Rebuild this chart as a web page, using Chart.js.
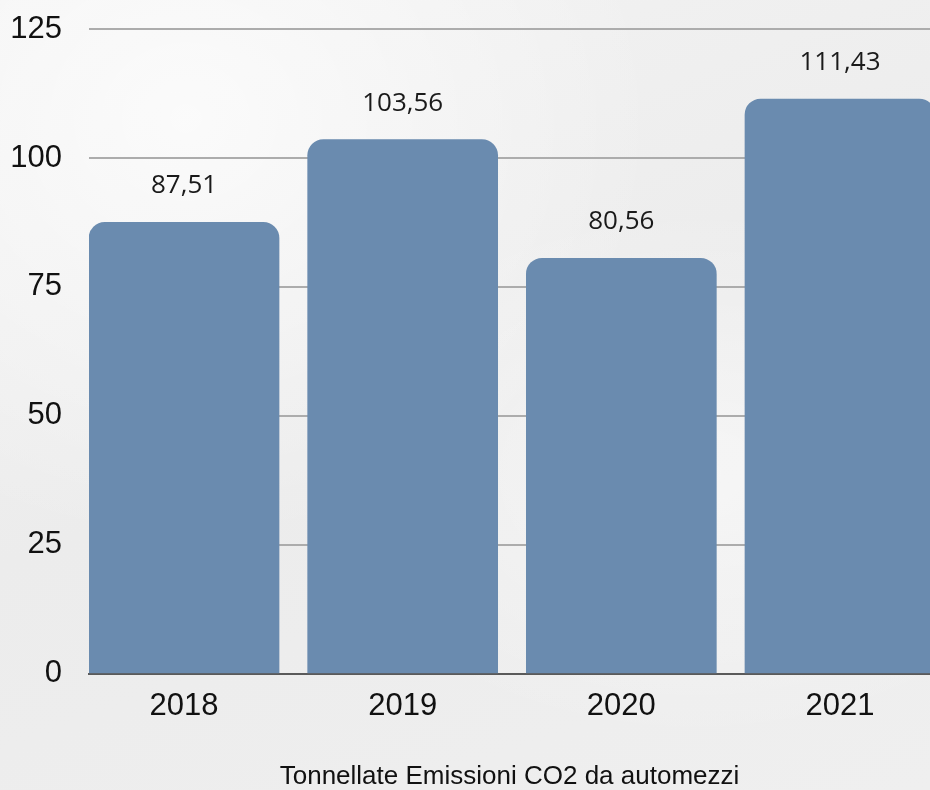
<!DOCTYPE html>
<html lang="it">
<head>
<meta charset="utf-8">
<title>Tonnellate Emissioni CO2 da automezzi</title>
<script src="https://cdn.jsdelivr.net/npm/chart.js@4"></script>
<style>
  html, body {
    margin: 0;
    padding: 0;
    overflow: hidden;
  }
  body {
    width: 930px;
    height: 790px;
    background-color: #eeeeee;
    background-image:
      radial-gradient(ellipse at 20% 15%, rgba(255,255,255,0.7), rgba(255,255,255,0) 45%),
      radial-gradient(ellipse at 75% 60%, rgba(255,255,255,0.5), rgba(255,255,255,0) 40%),
      linear-gradient(160deg, #f3f3f3 0%, #ececec 50%, #efefef 100%);
  }
  #wrap {
    position: relative;
    width: 930px;
    height: 790px;
  }
</style>
</head>
<body>
<div id="wrap"><canvas id="chart"></canvas></div>
<script>
const years = ["2018", "2019", "2020", "2021"];
const emissions = [87.51, 103.56, 80.56, 111.43];
const yTicks = [0, 25, 50, 75, 100, 125];
const axisTitle = "Tonnellate Emissioni CO2 da automezzi";

const barColor = "#6a8baf";

// value labels above each bar, italian decimal comma
const valueLabels = {
  id: "valueLabels",
  afterDatasetsDraw(chart) {
    const ctx = chart.ctx;
    const meta = chart.getDatasetMeta(0);
    ctx.save();
    ctx.font = "26px 'Open Sans'";
    ctx.fillStyle = "#1a1a1a";
    ctx.textAlign = "center";
    ctx.textBaseline = "alphabetic";
    meta.data.forEach((bar, i) => {
      const text = emissions[i].toFixed(2).replace(".", ",");
      ctx.fillText(text, bar.x, bar.y - 29);
    });
    ctx.restore();
  }
};

const points = years.map((y, i) => ({ x: i, y: emissions[i] }));

new Chart(document.getElementById("chart"), {
  type: "bar",
  data: {
    datasets: [{
      data: points,
      backgroundColor: barColor,
      borderWidth: 0,
      barThickness: 190,
      borderRadius: { topLeft: 16, topRight: 16, bottomLeft: 0, bottomRight: 0 },
      borderSkipped: "start"
    }]
  },
  options: {
    responsive: true,
    maintainAspectRatio: false,
    animation: false,
    layout: { padding: { top: 29, left: 10, right: 0, bottom: 0 } },
    plugins: {
      legend: { display: false },
      tooltip: { enabled: false }
    },
    scales: {
      x: {
        type: "linear",
        offset: false,
        min: -0.4346,
        max: 3.4117,
        afterBuildTicks: (scale) => {
          scale.ticks = years.map((y, i) => ({ value: i }));
        },
        grid: { display: false, drawTicks: false, offset: false },
        border: { display: true, color: "#5a5a5a", width: 2 },
        ticks: {
          autoSkip: false,
          maxRotation: 0,
          padding: 14,
          color: "#111111",
          font: { family: "'Liberation Sans', Arial, sans-serif", size: 31 },
          callback: (v) => years[v] ?? ""
        },
        title: {
          display: true,
          text: axisTitle,
          color: "#111111",
          font: { family: "'Liberation Sans', Arial, sans-serif", size: 26, lineHeight: 1 },
          padding: { top: 25, bottom: 0 }
        }
      },
      y: {
        min: 0,
        max: 125,
        afterBuildTicks: (scale) => {
          scale.ticks = yTicks.map((v) => ({ value: v }));
        },
        afterFit: (scale) => {
          scale.width = 79;
          scale.paddingTop = 0;
          scale.paddingBottom = 0;
        },
        grid: {
          drawTicks: false,
          lineWidth: 2,
          color: (c) => (c.tick && c.tick.value === 0 ? "rgba(0,0,0,0)" : "#acacac")
        },
        border: { display: false },
        ticks: {
          padding: 27,
          color: "#111111",
          font: { family: "'Liberation Sans', Arial, sans-serif", size: 31 }
        }
      }
    }
  },
  plugins: [valueLabels]
});
</script>
</body>
</html>
